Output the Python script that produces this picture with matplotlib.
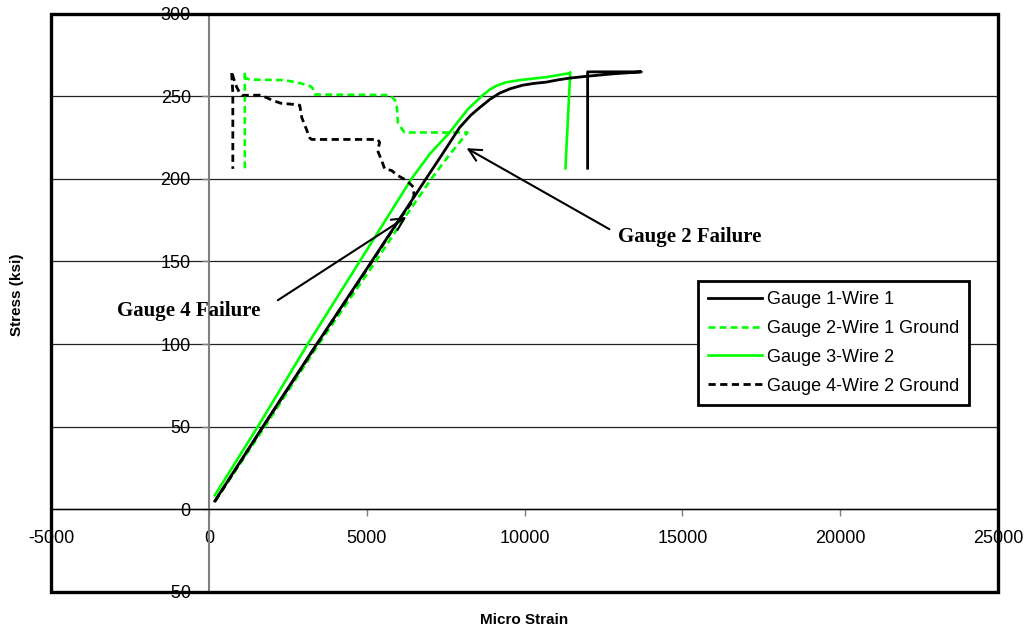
import matplotlib
matplotlib.use('Agg')
import matplotlib.pyplot as plt
from matplotlib.patches import Rectangle
import numpy as np

plt.rcParams['font.family'] = ['Liberation Sans', 'DejaVu Sans']
plt.rcParams['axes.unicode_minus'] = False

# values (micro strain, ksi)
g1_strain = [190, 1709, 3418, 5158, 6020, 6880, 7400, 7943, 8300, 8576, 8900,
             9209, 9550, 9937, 10300, 10696, 11050, 11424, 11962, 12800, 13700,
             12000, 12000]
g1_stress = [5, 50, 100, 150, 175, 200, 215, 231, 238.5, 243, 248,
             251.8, 254.5, 256.6, 257.7, 258.5, 259.8, 260.9, 262, 263.5, 264.7,
             264.7, 206.4]

g2_strain = [200, 1772, 3481, 5285, 6150, 7050, 7600, 8196, 6200, 5990, 5960,
             5900, 5740, 5000, 3354, 3290, 3220, 2900, 2400, 1300, 1150, 1140, 1140]
g2_stress = [5, 50, 100, 150, 175, 200, 214, 228, 228, 233.6, 243,
             247.5, 250.6, 250.8, 251, 254.8, 256, 257.8, 259.7, 260, 261, 264.5, 206]

g3_strain = [190, 1551, 3133, 4778, 5600, 6420, 7000, 7627, 8200, 8671, 8900,
             9114, 9400, 9842, 10696, 11424, 11450, 11297]
g3_stress = [8.5, 50, 100, 150, 175, 200, 215, 228, 242, 250.5, 254,
             256.3, 258.3, 259.7, 261.5, 263.9, 264.5, 206.4]

g4_strain = [200, 1720, 3430, 5170, 6020, 6400, 6500, 6480, 6266, 5981, 5791,
             5570, 5475, 5348, 5411, 5348, 3260, 3200, 3070, 2945, 2880, 2690,
             2280, 2000, 1840, 1650, 1044, 981, 870, 780, 720, 760, 760]
g4_stress = [5, 50, 100, 150, 175, 185, 190, 195, 199, 202, 205,
             206, 211, 217, 222, 223.8, 223.8, 224.6, 231, 237, 244.5, 245,
             245.7, 247.6, 249, 250.6, 250.5, 251.8, 256, 261, 265, 252, 206]

labels = ['Gauge 1-Wire 1', 'Gauge 2-Wire 1 Ground', 'Gauge 3-Wire 2', 'Gauge 4-Wire 2 Ground']
green = '#00FF00'

fig = plt.figure(figsize=(10.27, 6.35), dpi=100)
ax = fig.add_axes([51/1027, 1 - 592/635, 947/1027, 578.5/635])

ax.plot(g1_strain, g1_stress, color='black', lw=2.0, label=labels[0], zorder=4)
ax.plot(g2_strain, g2_stress, color=green, lw=1.9, dashes=(2.6, 1.6), label=labels[1], zorder=3)
ax.plot(g3_strain, g3_stress, color=green, lw=1.9, label=labels[2], zorder=3)
ax.plot(g4_strain, g4_stress, color='black', lw=2.0, dashes=(2.6, 1.6), label=labels[3], zorder=4)

ax.set_xlim(-5000, 25000)
ax.set_ylim(-50, 300)
ax.set_xticks(np.arange(-5000, 25001, 5000))
ax.set_yticks(np.arange(-50, 301, 50))

ax.spines['left'].set_position(('data', 0))
ax.spines['bottom'].set_position(('data', 0))
ax.spines['left'].set_color('#808080')
ax.spines['left'].set_linewidth(1.5)
ax.spines['bottom'].set_color('black')
ax.spines['bottom'].set_linewidth(1.0)
ax.spines['top'].set_visible(False)
ax.spines['right'].set_visible(False)
ax.yaxis.grid(True, color='#222222', lw=0.9)
ax.set_axisbelow(True)
ax.tick_params(axis='x', direction='out', length=5, width=1, color='#808080', pad=10, labelsize=13)
ax.tick_params(axis='y', direction='out', length=5, width=1, color='#808080', pad=8, labelsize=13)

ax.add_patch(Rectangle((0, 0), 1, 1, transform=ax.transAxes, fill=False,
                       ec='black', lw=2.4, clip_on=False, zorder=6))

leg = ax.legend(loc='upper left', bbox_to_anchor=(698/1027, 1 - 281/635),
                bbox_transform=fig.transFigure, borderaxespad=0, fontsize=13,
                fancybox=False, framealpha=1, edgecolor='black',
                handlelength=3.0, handletextpad=0.25, labelspacing=0.66,
                borderpad=0.55)
leg.get_frame().set_linewidth(2)

arrow = dict(arrowstyle='->', color='black', lw=1.5, mutation_scale=22, shrinkA=0, shrinkB=0)
ax.annotate('', xy=(8165, 218.5), xytext=(12690, 169.5), arrowprops=arrow)
ax.text(12975, 164.6, 'Gauge 2 Failure', family='Liberation Serif', weight='bold',
        fontsize=15, ha='left', va='center')
ax.annotate('', xy=(6256, 176.9), xytext=(2184, 126.5), arrowprops=arrow)
ax.text(-2912, 119.8, 'Gauge 4 Failure', family='Liberation Serif', weight='bold',
        fontsize=15, ha='left', va='center')

fig.text(17/1027, 1 - 295/635, 'Stress (ksi)', rotation=90, ha='center', va='center',
         fontsize=11, weight='bold')
fig.text(524/1027, 1 - 620/635, 'Micro Strain', ha='center', va='center',
         fontsize=11, weight='bold')

plt.savefig('out.png', dpi=100)
